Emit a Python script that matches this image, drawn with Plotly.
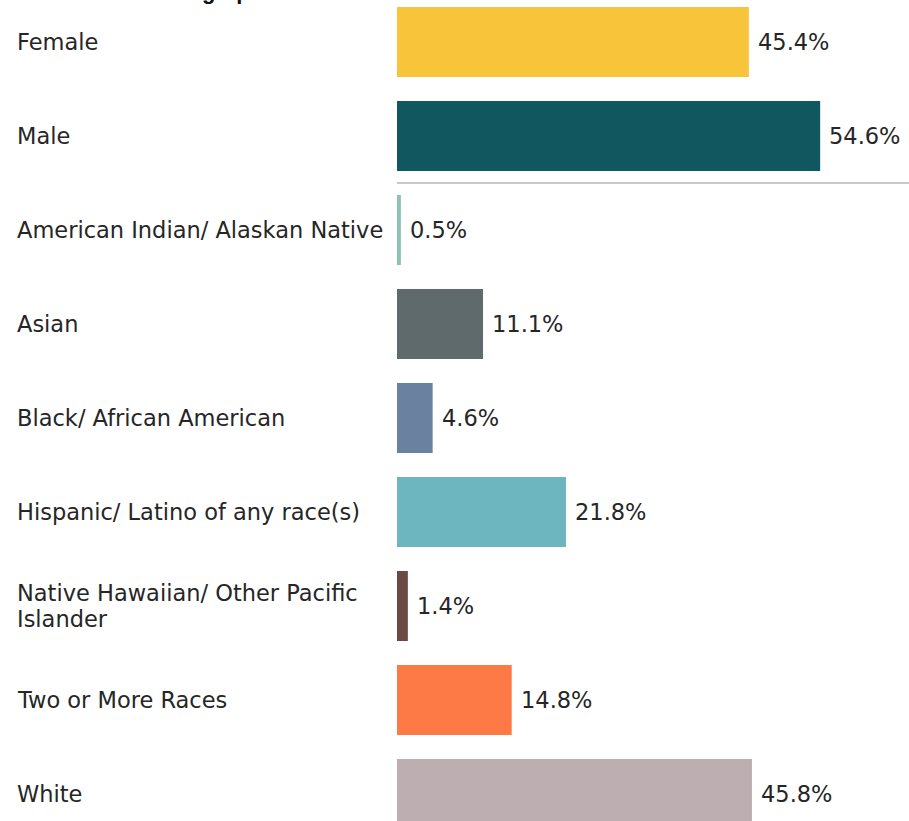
import plotly.graph_objects as go

categories = [
    "Female",
    "Male",
    "American Indian/ Alaskan Native",
    "Asian",
    "Black/ African American",
    "Hispanic/ Latino of any race(s)",
    "Native Hawaiian/ Other Pacific<br>Islander",
    "Two or More Races",
    "White",
]
values = [45.4, 54.6, 0.5, 11.1, 4.6, 21.8, 1.4, 14.8, 45.8]
value_labels = ["45.4%", "54.6%", "0.5%", "11.1%", "4.6%", "21.8%", "1.4%", "14.8%", "45.8%"]

bar_colors = ["#F8C43A", "#10575F", "#8EC2B4", "#5E6A6C", "#6A82A0",
              "#6DB5BF", "#6C4A44", "#FD7945", "#BDAFB1"]

W, H = 909, 821
LEFT = 397
plot_w = W - LEFT
px_per_unit = 7.75
x_max = plot_w / px_per_unit
slot = 94.0
first_center = 42.0
y_top = -first_center / slot
y_bot = (H - first_center) / slot

pos = list(range(len(categories)))

fig = go.Figure()
fig.add_trace(go.Bar(
    x=values, y=pos, orientation="h",
    marker=dict(color=bar_colors, line=dict(width=0)),
    width=70 / slot,
    hoverinfo="skip",
))

label_font = dict(family="DejaVu Sans", size=22.5, color="#262626")
annotations = []
for i, (c, v, t) in enumerate(zip(categories, values, value_labels)):
    lines = c.split("<br>")
    n = len(lines)
    for k, line in enumerate(lines):
        annotations.append(dict(
            x=(15 - LEFT) / plot_w, xref="paper", y=i, yref="y",
            text=line, showarrow=False, xanchor="left", yanchor="middle",
            align="left", font=label_font,
            yshift=-(k - (n - 1) / 2) * 26,
        ))
    annotations.append(dict(
        x=v, xref="x", y=i, yref="y", text=t, showarrow=False,
        xanchor="left", yanchor="middle", xshift=7, font=label_font,
    ))

# partially visible title at the top edge
annotations.append(dict(
    x=(139 - LEFT) / plot_w, xref="paper", y=1, yref="paper",
    text="<b>Demographics</b>", showarrow=False, xanchor="left", yanchor="bottom",
    yshift=-6, font=dict(family="Liberation Sans", size=22, color="#111111"),
))

fig.update_layout(
    width=W, height=H,
    margin=dict(l=LEFT, r=0, t=0, b=0, pad=0),
    paper_bgcolor="white", plot_bgcolor="white",
    showlegend=False,
    xaxis=dict(range=[0, x_max], visible=False, fixedrange=True),
    yaxis=dict(range=[y_bot, y_top], visible=False, fixedrange=True),
    annotations=annotations,
    shapes=[dict(type="line", xref="paper", x0=0, x1=1, yref="y", y0=1.5, y1=1.5,
                 line=dict(color="#C8C8C8", width=2))],
)

fig.write_html("out.html")
